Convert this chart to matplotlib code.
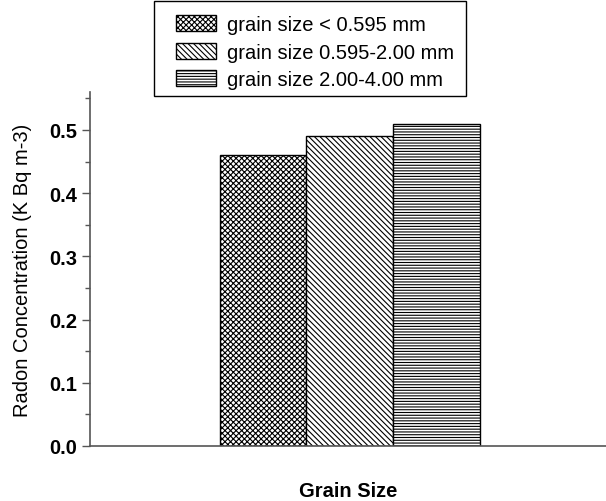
"""Radon concentration by grain size — hatched bar chart."""

import matplotlib
matplotlib.use("Agg")
import matplotlib.pyplot as plt
from matplotlib.patches import Rectangle
from matplotlib.ticker import MultipleLocator

# data
labels = ["grain size < 0.595 mm", "grain size 0.595-2.00 mm", "grain size 2.00-4.00 mm"]
radon = [0.46, 0.49, 0.51]
hatches = ["xxxxxx", "\\" * 6, "-" * 6]

plt.rcParams["font.family"] = ["Liberation Sans", "DejaVu Sans"]
plt.rcParams["hatch.linewidth"] = 0.8

fig = plt.figure(figsize=(6.06, 5.02), dpi=100)
ax = fig.add_axes([90 / 606, 1 - 447 / 502, 516 / 606, (447 - 93) / 502])

spine_col = "#555555"
for i, (val, h, lab) in enumerate(zip(radon, hatches, labels)):
    ax.bar(i, val, width=1.0, color="white", edgecolor="black", linewidth=1.0,
           hatch=h, label=lab)

ax.set_xlim(-2.0, 3.96)
ax.set_ylim(0, 0.56)
ax.yaxis.set_major_locator(MultipleLocator(0.1))
ax.yaxis.set_minor_locator(MultipleLocator(0.05))
ax.yaxis.set_major_formatter(plt.FormatStrFormatter("%.1f"))
ax.set_xticks([])

for side in ("top", "right"):
    ax.spines[side].set_visible(False)
for side in ("left", "bottom"):
    ax.spines[side].set_color(spine_col)
    ax.spines[side].set_linewidth(1.2)

ax.tick_params(axis="y", which="major", direction="out", length=6, width=1,
               color=spine_col, labelsize=14.5)
ax.tick_params(axis="y", which="minor", direction="out", length=3.5, width=1,
               color=spine_col)
for t in ax.get_yticklabels():
    t.set_fontweight("bold")

ax.set_ylabel("Radon Concentration (K Bq m-3)", fontsize=14.5, labelpad=12)
ax.set_xlabel("Grain Size", fontsize=14.5, fontweight="bold", labelpad=25)

leg = ax.legend(loc="upper left", bbox_to_anchor=(166 / 606, 1 - 6 / 502),
                bbox_transform=fig.transFigure, frameon=False, fontsize=14.5,
                handlelength=2.0, handleheight=0.85, handletextpad=0.55,
                labelspacing=0.42, borderpad=0.0)

fig.patches.append(Rectangle((154 / 606, 1 - 97 / 502), (466 - 154) / 606, 95 / 502,
                             transform=fig.transFigure, fill=False,
                             edgecolor="black", linewidth=1.0))

fig.savefig("out.png", dpi=100)
